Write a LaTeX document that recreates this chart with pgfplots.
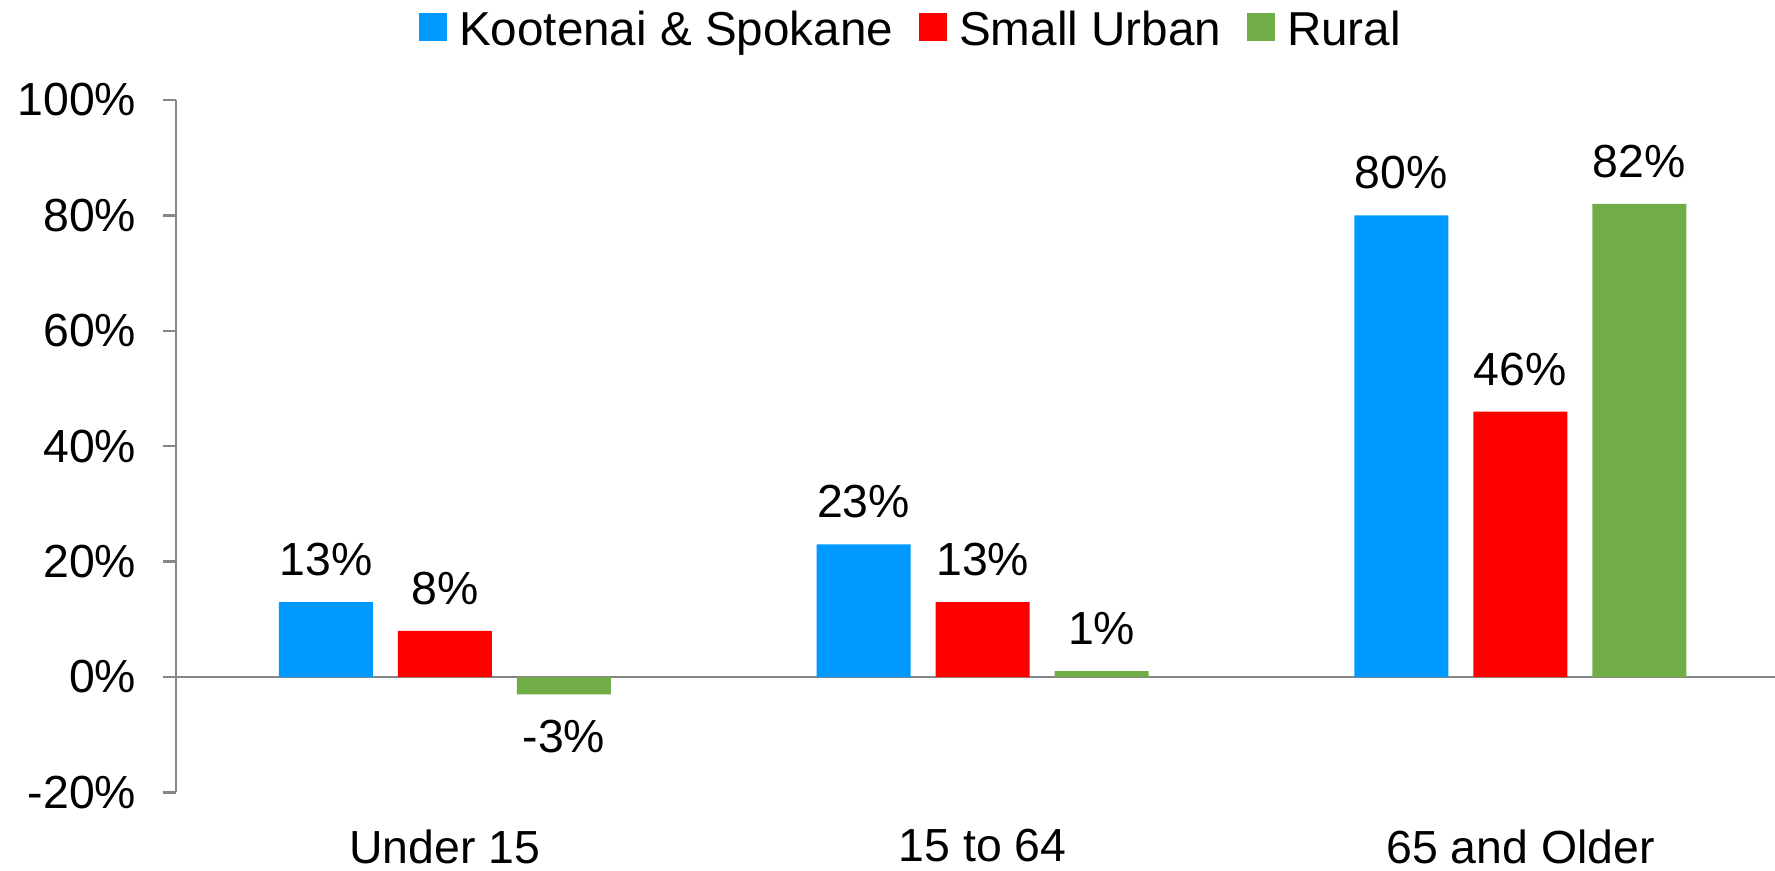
\documentclass[border=0pt]{standalone}
\usepackage{pgfplots}
\pgfplotsset{compat=1.18}
\usepackage{fontspec}
\setmainfont{Liberation Sans}
\definecolor{kblue}{RGB}{0,153,255}
\definecolor{sred}{RGB}{255,0,0}
\definecolor{rgreen}{RGB}{112,173,71}
\definecolor{axgray}{RGB}{134,134,134}
\begin{document}
\fontsize{11.6}{13.9}\selectfont
\begin{tikzpicture}[font=\fontsize{11.6}{13.9}\selectfont]
\begin{axis}[
  at={(0pt,0pt)}, anchor=south west,
  scale only axis,
  width=399.75pt, height=173.1pt,
  xmin=-0.5, xmax=2.4735,
  ymin=-20, ymax=100,
  enlargelimits=false,
  clip=false,
  axis lines*=left,
  x axis line style={draw=none},
  y axis line style={draw=axgray, line width=0.6pt},
  ytick={-20,0,20,40,60,80,100},
  ytick style={draw=axgray, line width=0.6pt},
  tick align=outside,
  major tick length=3.25pt,
  xtick={0,1,2},
  xticklabels={Under 15, 15 to 64, 65 and Older},
  xtick style={draw=none},
  /pgf/number format/assume math mode=true,
  yticklabel={\pgfmathprintnumber{\tick}\%},
  yticklabel style={inner xsep=0pt, xshift=-6.5pt},
  xticklabel style={inner sep=0pt, anchor=north, yshift=-5.8pt},
  ybar,
  bar width=0.1748,
  nodes near coords={\pgfmathprintnumber{\pgfplotspointmeta}\%},
  nodes near coords style={inner ysep=6.3pt, inner xsep=0pt, text=black},
  legend columns=-1,
  legend image code/.code={\fill[#1, draw=none] (0pt,-2.4pt) rectangle (7pt,4.6pt);},
  legend style={at={(0.459,1)}, anchor=south, yshift=11.8pt, draw=none,
    inner sep=0pt, nodes={inner sep=0pt},
    font=\fontsize{11.9}{14.2}\selectfont,
    /tikz/column sep=3pt,
    /tikz/every even column/.append style={column sep=6.5pt}},
]
\draw[axgray, line width=0.6pt] (axis cs:-0.5,0) -- (axis cs:2.4735,0);
\addplot[fill=kblue, draw=none, bar shift=-0.2213] coordinates {(0,13) (1,23) (2,80)};
\addplot[fill=sred, draw=none, bar shift=0] coordinates {(0,8) (1,13) (2,46)};
\addplot[fill=rgreen, draw=none, bar shift=0.2213] coordinates {(0,-3) (1,1) (2,82)};
\legend{Kootenai \& Spokane, Small Urban, Rural}
\end{axis}
\pgfresetboundingbox
\useasboundingbox (-44pt,-19.4pt) rectangle (399.75pt,198.1pt);
\end{tikzpicture}
\end{document}
